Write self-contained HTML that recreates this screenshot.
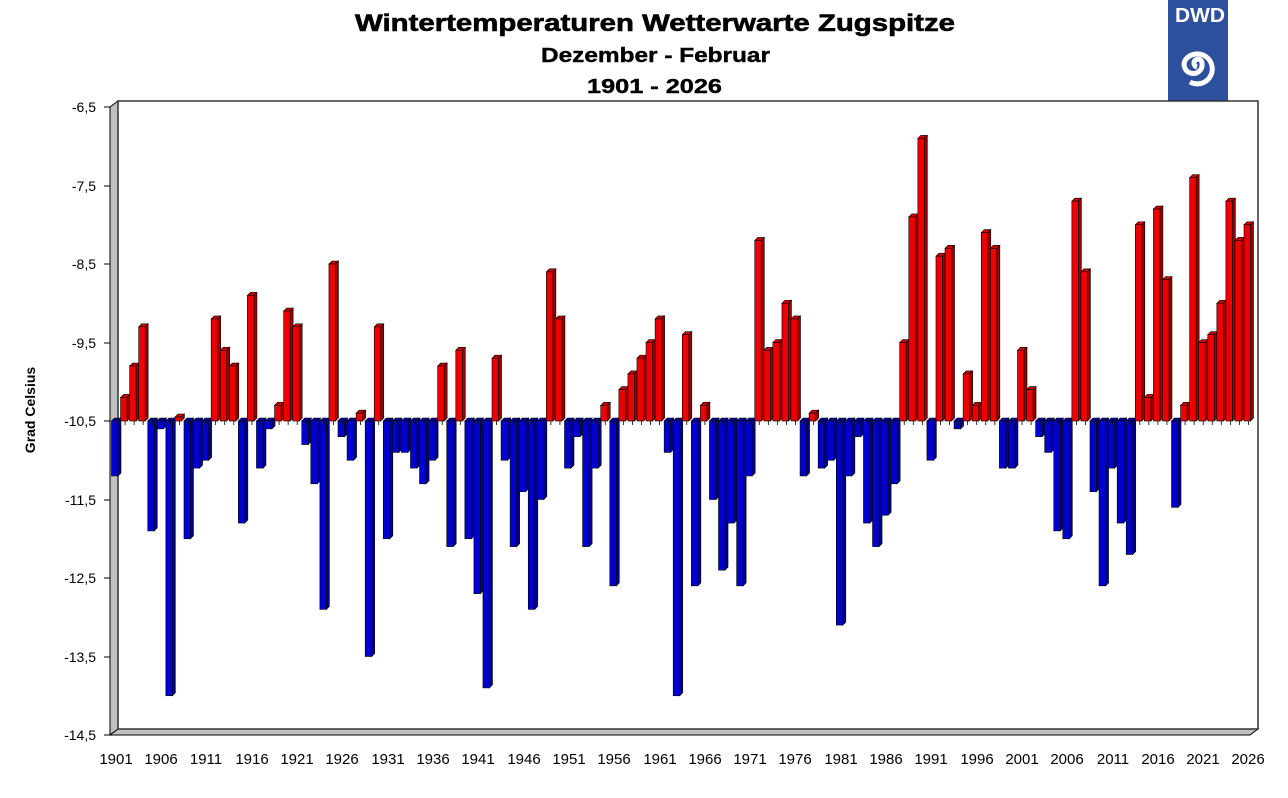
<!DOCTYPE html>
<html><head><meta charset="utf-8"><style>
body{margin:0;background:#fff;width:1288px;height:793px;overflow:hidden;font-family:"Liberation Sans",sans-serif}
</style></head><body>
<svg id="s" width="1288" height="793" xmlns="http://www.w3.org/2000/svg" font-family="Liberation Sans, sans-serif">
<text x="355" y="31" font-size="24" font-weight="bold" textLength="600" lengthAdjust="spacingAndGlyphs" stroke="#000" stroke-width="0.6">Wintertemperaturen Wetterwarte Zugspitze</text>
<text x="541" y="62" font-size="20" font-weight="bold" textLength="229" lengthAdjust="spacingAndGlyphs" stroke="#000" stroke-width="0.4">Dezember - Februar</text>
<text x="587" y="93" font-size="20" font-weight="bold" textLength="135" lengthAdjust="spacingAndGlyphs" stroke="#000" stroke-width="0.4">1901 - 2026</text>
<rect x="1168" y="0" width="60" height="102" fill="#2e4f9e"/>
<text x="1175" y="22" font-size="20" font-weight="bold" fill="#fff" textLength="50" lengthAdjust="spacingAndGlyphs">DWD</text>
<path d="M1198,65 m-1,2 a4,4 0 1,1 5,-4 a9,9 0 1,1 -16,-4 a15,15 0 1,1 4,23" fill="none" stroke="#fff" stroke-width="5"/>
<polygon points="110,107 118,101 118,729 110,735" fill="#c0c0c0" stroke="#000" stroke-width="1"/>
<polygon points="110,735 118,729 1258,729 1250,735" fill="#c0c0c0" stroke="#000" stroke-width="1"/>
<rect x="118" y="101" width="1140" height="628" fill="#fff" stroke="#333" stroke-width="1.5"/>
<g id="bars"></g>
<g font-size="14" text-anchor="end">
<text x="96" y="112">-6,5</text>
<text x="96" y="191">-7,5</text>
<text x="96" y="269">-8,5</text>
<text x="96" y="348">-9,5</text>
<text x="96" y="426">-10,5</text>
<text x="96" y="505">-11,5</text>
<text x="96" y="583">-12,5</text>
<text x="96" y="662">-13,5</text>
<text x="96" y="740">-14,5</text>
</g>
<g stroke="#000">
<line x1="104" y1="107" x2="110" y2="107"/><line x1="104" y1="186" x2="110" y2="186"/><line x1="104" y1="264" x2="110" y2="264"/><line x1="104" y1="343" x2="110" y2="343"/><line x1="104" y1="421" x2="110" y2="421"/><line x1="104" y1="500" x2="110" y2="500"/><line x1="104" y1="578" x2="110" y2="578"/><line x1="104" y1="657" x2="110" y2="657"/><line x1="104" y1="735" x2="110" y2="735"/>
</g>
<text transform="translate(35,410) rotate(-90)" font-size="14" font-weight="bold" text-anchor="middle">Grad Celsius</text>
<g font-size="15" text-anchor="middle">
<text x="116" y="764">1901</text><text x="161" y="764">1906</text><text x="206" y="764">1911</text><text x="252" y="764">1916</text><text x="297" y="764">1921</text><text x="342" y="764">1926</text><text x="388" y="764">1931</text><text x="433" y="764">1936</text><text x="478" y="764">1941</text><text x="524" y="764">1946</text><text x="569" y="764">1951</text><text x="614" y="764">1956</text><text x="660" y="764">1961</text><text x="705" y="764">1966</text><text x="750" y="764">1971</text><text x="795" y="764">1976</text><text x="841" y="764">1981</text><text x="886" y="764">1986</text><text x="931" y="764">1991</text><text x="977" y="764">1996</text><text x="1022" y="764">2001</text><text x="1067" y="764">2006</text><text x="1113" y="764">2011</text><text x="1158" y="764">2016</text><text x="1203" y="764">2021</text><text x="1248" y="764">2026</text>
</g>
</svg>
<script>
var v=[-11.2,-10.2,-9.8,-9.3,-11.9,-10.6,-14.0,-10.45,-12.0,-11.1,-11.0,-9.2,-9.6,-9.8,-11.8,-8.9,-11.1,-10.6,-10.3,-9.1,-9.3,-10.8,-11.3,-12.9,-8.5,-10.7,-11.0,-10.4,-13.5,-9.3,-12.0,-10.9,-10.9,-11.1,-11.3,-11.0,-9.8,-12.1,-9.6,-12.0,-12.7,-13.9,-9.7,-11.0,-12.1,-11.4,-12.9,-11.5,-8.6,-9.2,-11.1,-10.7,-12.1,-11.1,-10.3,-12.6,-10.1,-9.9,-9.7,-9.5,-9.2,-10.9,-14.0,-9.4,-12.6,-10.3,-11.5,-12.4,-11.8,-12.6,-11.2,-8.2,-9.6,-9.5,-9.0,-9.2,-11.2,-10.4,-11.1,-11.0,-13.1,-11.2,-10.7,-11.8,-12.1,-11.7,-11.3,-9.5,-7.9,-6.9,-11.0,-8.4,-8.3,-10.6,-9.9,-10.3,-8.1,-8.3,-11.1,-11.1,-9.6,-10.1,-10.7,-10.9,-11.9,-12.0,-7.7,-8.6,-11.4,-12.6,-11.1,-11.8,-12.2,-8.0,-10.2,-7.8,-8.7,-11.6,-10.3,-7.4,-9.5,-9.4,-9.0,-7.7,-8.2,-8.0];
var g=document.getElementById('bars'),h='';
function Y(t){return 421+(-10.5-t)*78.5;}
var b=Y(-10.5);
for(var i=0;i<v.length;i++){
 var x=111.5+i*9.06,w=6.5,d=3,y=Y(v[i]);
 var up=v[i]>-10.5;
 var f=up?'#ee0000':'#0000d0',s=up?'#990000':'#000090',tp=up?'#cc0000':'#0000a0';
 var y0=Math.min(y,b),y1=Math.max(y,b);
 h+='<polygon points="'+(x+w)+','+y0+' '+(x+w+d)+','+(y0-d)+' '+(x+w+d)+','+(y1-d)+' '+(x+w)+','+y1+'" fill="'+s+'" stroke="#000" stroke-width="0.6"/>';
 h+='<polygon points="'+x+','+y0+' '+(x+d)+','+(y0-d)+' '+(x+w+d)+','+(y0-d)+' '+(x+w)+','+y0+'" fill="'+tp+'" stroke="#000" stroke-width="0.6"/>';
 h+='<rect x="'+x+'" y="'+y0+'" width="'+w+'" height="'+(y1-y0)+'" fill="'+f+'" stroke="#000" stroke-width="0.6"/>';
 h+='<line x1="'+(x+4.5)+'" y1="421" x2="'+(x+4.5)+'" y2="425" stroke="#000" stroke-width="0.8"/>';
}
g.innerHTML=h;
</script>
</body></html>
